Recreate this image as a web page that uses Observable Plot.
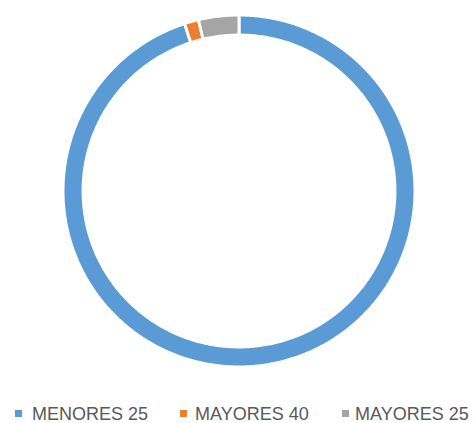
<!DOCTYPE html>
<html>
<head>
<meta charset="utf-8">
<script src="https://cdn.jsdelivr.net/npm/d3@7"></script>
<script src="https://cdn.jsdelivr.net/npm/@observablehq/plot@0.6"></script>
<style>
  html, body { margin: 0; padding: 0; background: #fff; }
  #chart { width: 475px; height: 423px; position: relative; overflow: hidden; }
  #chart svg { display: block; }
  #legend { position: relative; height: 38px; font-family: "Liberation Sans", Arial, sans-serif; font-size: 18px; line-height: 18px; color: #595959; }
  .item { position: absolute; top: 20px; white-space: nowrap; }
  .sw { position: absolute; width: 7px; height: 7px; top: 25px; }
</style>
</head>
<body>
<div id="chart"></div>
<script>
const categories = ["MENORES 25", "MAYORES 40", "MAYORES 25"];
const values = [95.0, 1.3, 3.7];
const colors = ["#5B9BD5", "#ED7D31", "#A5A5A5"];
const legendSwatchX = [15, 180, 342];
const legendTextX = [32, 195, 355];

const W = 475, H = 385;
const cx = 238.5, cy = 190.5, R = 176;
const inner = 0.886;

const arcs = d3.pie().sort(null)(values);
const pts = [];
arcs.forEach((a, i) => {
  const n = Math.max(4, Math.ceil((a.endAngle - a.startAngle) / 0.01));
  for (let k = 0; k <= n; k++) {
    const t = a.startAngle + (a.endAngle - a.startAngle) * k / n;
    pts.push({cat: categories[i], x: Math.sin(t), y: Math.cos(t)});
  }
  for (let k = n; k >= 0; k--) {
    const t = a.startAngle + (a.endAngle - a.startAngle) * k / n;
    pts.push({cat: categories[i], x: inner * Math.sin(t), y: inner * Math.cos(t)});
  }
});

const plot = Plot.plot({
  width: W,
  height: H,
  marginLeft: cx - R,
  marginRight: W - (cx + R),
  marginTop: cy - R,
  marginBottom: H - (cy + R),
  x: {domain: [-1, 1], axis: null},
  y: {domain: [-1, 1], axis: null},
  color: {domain: categories, range: colors},
  marks: [
    Plot.line(pts, {x: "x", y: "y", z: "cat", fill: "cat", stroke: "white", strokeWidth: 3, curve: "linear-closed"})
  ]
});

const chart = document.getElementById("chart");
chart.appendChild(plot);
const legend = document.createElement("div");
legend.id = "legend";
categories.forEach((c, i) => {
  const sw = document.createElement("div");
  sw.className = "sw";
  sw.style.left = legendSwatchX[i] + "px";
  sw.style.background = colors[i];
  legend.appendChild(sw);
  const t = document.createElement("div");
  t.className = "item";
  t.style.left = legendTextX[i] + "px";
  t.textContent = c;
  legend.appendChild(t);
});
chart.appendChild(legend);
</script>
</body>
</html>
